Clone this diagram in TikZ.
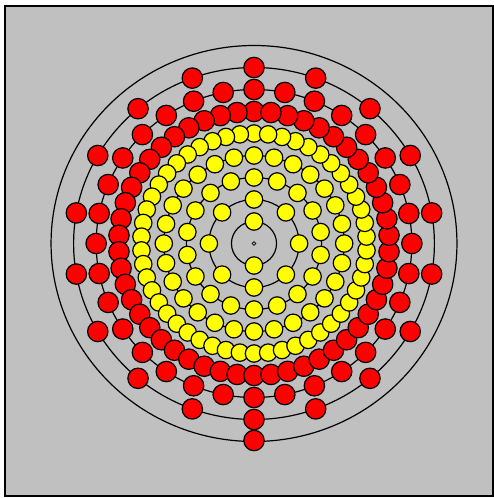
\documentclass[tikz,border=0pt]{standalone}
\definecolor{bggray}{RGB}{192,192,192}
\definecolor{fuelyellow}{RGB}{255,255,0}
\definecolor{reflred}{RGB}{255,0,0}
\newcommand{\pinring}[5]{%
  \foreach \j in {0,...,#2} {%
    \ifnum\j<#2
      \path[#4] ({254+22*#1*1.025*cos(#3+(360/#2)*\j)},{254.5+22*#1*sin(#3+(360/#2)*\j)}) circle (#5);
    \fi
  }%
}
\begin{document}
\begin{tikzpicture}[x=1pt,y=1pt,
  ringline/.style={draw=black,line width=1.2pt},
  fuelpin/.style={draw=black,fill=fuelyellow,line width=1.2pt},
  reflpin/.style={draw=black,fill=reflred,line width=1.2pt}]
\useasboundingbox (0,0) rectangle (494,498);
\fill[white] (0,0) rectangle (494,498);
\draw[line width=2pt,fill=bggray] (5,2) rectangle (492.5,492);
% ring lines
\foreach \k in {1,...,9}
  \draw[ringline] (254,254.5) ellipse [x radius={22*\k*1.025}, y radius={22*\k}];
\draw[draw=black,line width=0.7pt] (254,254.5) circle (1.8);
% reflector rings
\path[reflpin] (254,{254.5-197}) circle (10.2);
\pinring{8}{18}{90}{reflpin}{10.2}
\pinring{7}{32}{90}{reflpin}{10.2}
\pinring{6}{50}{90}{reflpin}{10.2}
% fuel rings
\pinring{5}{50}{90}{fuelpin}{8.7}
\pinring{4}{28}{90}{fuelpin}{8.7}
\pinring{3}{18}{90}{fuelpin}{8.7}
\pinring{2}{8}{0}{fuelpin}{8.7}
\path[fuelpin] (254,{254.5+22}) circle (8.7);
\path[fuelpin] (254,{254.5-22}) circle (8.7);
\end{tikzpicture}
\end{document}
